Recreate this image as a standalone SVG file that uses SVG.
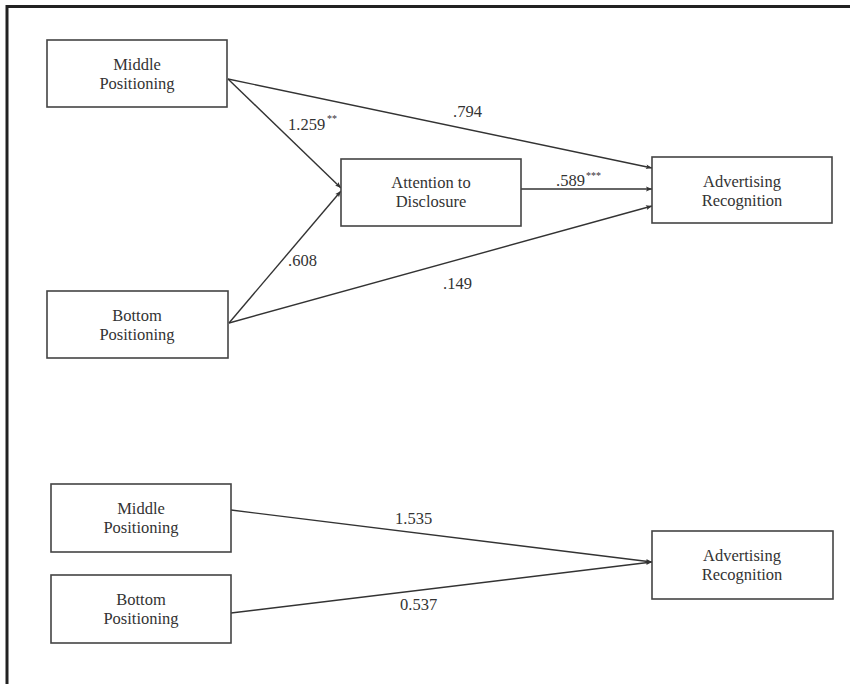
<svg xmlns="http://www.w3.org/2000/svg" width="850" height="684" viewBox="0 0 850 684">
<defs>
<style>
.box{fill:#fff;stroke:#444;stroke-width:1.6}
.lbl{font-family:"Liberation Serif","Times New Roman",serif;font-size:16.5px;fill:#333;text-anchor:middle}
.num{font-family:"Liberation Serif","Times New Roman",serif;font-size:16.5px;fill:#333}
.sup{font-family:"Liberation Serif","Times New Roman",serif;font-size:10px;fill:#333}
.edge{stroke:#333;stroke-width:1.4;fill:none;marker-end:url(#ah)}
</style>
<marker id="ah" viewBox="0 0 10 10" refX="10" refY="5" markerWidth="8" markerHeight="6" markerUnits="userSpaceOnUse" orient="auto">
<path d="M0,1 L10,5 L0,9 L2,5 Z" fill="#333"/>
</marker>
</defs>
<rect width="850" height="684" fill="#fff"/>
<path d="M7,684 V6.5 H850" fill="none" stroke="#222" stroke-width="3"/>
<g id="connectors">
<line class="edge" x1="228" y1="79" x2="652" y2="168"/>
<line class="edge" x1="228" y1="79" x2="341" y2="188"/>
<line class="edge" x1="521" y1="189" x2="652" y2="189"/>
<line class="edge" x1="229" y1="323" x2="341" y2="191"/>
<line class="edge" x1="229" y1="323" x2="652" y2="206"/>
<line class="edge" x1="231" y1="510" x2="652" y2="562"/>
<line class="edge" x1="231" y1="613" x2="652" y2="562"/>
</g>
<g id="edge-labels">
<text class="num" x="288" y="130">1.259</text><text class="sup" x="327" y="122">**</text>
<text class="num" x="453" y="117">.794</text>
<text class="num" x="556" y="186">.589</text><text class="sup" x="586" y="179">***</text>
<text class="num" x="288" y="266">.608</text>
<text class="num" x="443" y="289">.149</text>
<text class="num" x="395" y="524">1.535</text>
<text class="num" x="400" y="610">0.537</text>
</g>
<g id="middle-top">
<rect class="box" x="47" y="40" width="180" height="67"/>
<text class="lbl" x="137" y="70">Middle</text>
<text class="lbl" x="137" y="89">Positioning</text>
</g>
<g id="attention">
<rect class="box" x="341" y="159" width="180" height="67"/>
<text class="lbl" x="431" y="188">Attention to</text>
<text class="lbl" x="431" y="207">Disclosure</text>
</g>
<g id="adrec-top">
<rect class="box" x="652" y="157" width="180" height="66"/>
<text class="lbl" x="742" y="187">Advertising</text>
<text class="lbl" x="742" y="206">Recognition</text>
</g>
<g id="bottom-top">
<rect class="box" x="47" y="291" width="181" height="67"/>
<text class="lbl" x="137" y="321">Bottom</text>
<text class="lbl" x="137" y="340">Positioning</text>
</g>
<g id="middle-bottom">
<rect class="box" x="51" y="484" width="180" height="68"/>
<text class="lbl" x="141" y="514">Middle</text>
<text class="lbl" x="141" y="533">Positioning</text>
</g>
<g id="bottom-bottom">
<rect class="box" x="51" y="575" width="180" height="68"/>
<text class="lbl" x="141" y="605">Bottom</text>
<text class="lbl" x="141" y="624">Positioning</text>
</g>
<g id="adrec-bottom">
<rect class="box" x="652" y="531" width="181" height="68"/>
<text class="lbl" x="742" y="561">Advertising</text>
<text class="lbl" x="742" y="580">Recognition</text>
</g>
</svg>
